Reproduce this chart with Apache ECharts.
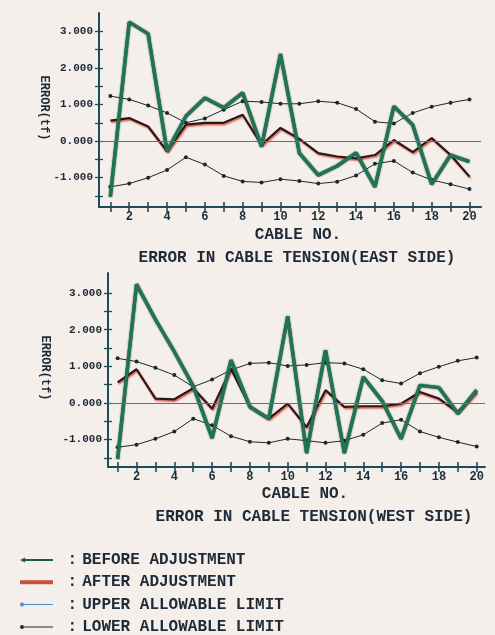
<!DOCTYPE html>
<html>
<head>
<meta charset="utf-8">
<script src="https://cdn.jsdelivr.net/npm/echarts@6/dist/echarts.min.js"></script>
<style>
html,body{margin:0;padding:0;background:#f4efeb;}
#c{width:495px;height:635px;}
</style>
</head>
<body>
<div id="c"></div>
<script>
var cables = [1,2,3,4,5,6,7,8,9,10,11,12,13,14,15,16,17,18,19,20];
var xTickValues = [1,2,3,4,5,6,7,8,9,10,11,12,13,14,15,16,17,18,19,20];
var xLabelValues = [2,4,6,8,10,12,14,16,18,20];
var yTickValues = [-1.5,-1,-0.5,0,0.5,1,1.5,2,2.5,3];
var yLabelValues = [-1,0,1,2,3];

var eastBefore = [-1.52, 3.25, 2.93, -0.28, 0.68, 1.18, 0.91, 1.32, -0.15, 2.38, -0.33, -0.93, -0.68, -0.32, -1.25, 0.95, 0.44, -1.18, -0.38, -0.56];
var eastAfter  = [0.56, 0.63, 0.40, -0.28, 0.45, 0.50, 0.50, 0.72, -0.10, 0.36, 0.06, -0.33, -0.42, -0.47, -0.38, 0.03, -0.30, 0.08, -0.38, -0.97];
var eastUpper  = [1.23, 1.14, 0.97, 0.77, 0.50, 0.62, 0.86, 1.09, 1.07, 1.02, 1.02, 1.09, 1.05, 0.88, 0.53, 0.48, 0.77, 0.94, 1.05, 1.14];
var eastLower  = [-1.25, -1.16, -1.00, -0.79, -0.44, -0.64, -0.95, -1.10, -1.13, -1.04, -1.09, -1.16, -1.11, -0.94, -0.62, -0.54, -0.86, -1.06, -1.18, -1.31];

var westBefore = [-1.53, 3.24, 2.28, 1.40, 0.46, -0.96, 1.17, -0.11, -0.43, 2.37, -1.37, 1.44, -1.37, 0.71, 0.05, -0.98, 0.48, 0.42, -0.29, 0.35];
var westAfter  = [0.56, 0.92, 0.12, 0.10, 0.40, -0.16, 0.93, -0.09, -0.43, -0.02, -0.66, 0.35, -0.11, -0.09, -0.09, -0.02, 0.30, 0.12, -0.25, 0.30];
var westUpper  = [1.22, 1.13, 0.96, 0.76, 0.44, 0.64, 0.90, 1.08, 1.10, 1.01, 1.04, 1.10, 1.08, 0.92, 0.62, 0.53, 0.81, 0.99, 1.15, 1.24];
var westLower  = [-1.21, -1.14, -0.98, -0.78, -0.43, -0.61, -0.91, -1.06, -1.09, -0.98, -1.03, -1.09, -1.03, -0.87, -0.55, -0.46, -0.78, -0.94, -1.07, -1.19];

var seriesNames = ['BEFORE ADJUSTMENT','AFTER ADJUSTMENT','UPPER ALLOWABLE LIMIT','LOWER ALLOWABLE LIMIT'];

function pairs(vals){ return cables.map(function(c,i){ return [c, vals[i]]; }); }

var MONO = '"Liberation Mono","DejaVu Sans Mono",monospace';
var INK = '#1e2a38';
var AXIS = '#1d4c58';

function xAxes(grid, min, max){
  return [{
    type:'value', gridIndex:grid, min:min, max:max, position:'bottom',
    axisLine:{show:true, onZero:false, lineStyle:{color:AXIS, width:2}},
    axisTick:{show:true, inside:false, length:5, customValues:xTickValues, lineStyle:{color:AXIS,width:1.6}},
    axisLabel:{show:true, customValues:xLabelValues, margin:4, color:INK, fontFamily:MONO, fontWeight:'bold', fontSize:12},
    splitLine:{show:false}
  },{
    type:'value', gridIndex:grid, min:min, max:max, position:'bottom', offset:0,
    axisLine:{show:false, onZero:false},
    axisTick:{show:true, inside:true, length:5, customValues:xTickValues, lineStyle:{color:AXIS,width:1.6}},
    axisLabel:{show:false}, splitLine:{show:false}
  }];
}
function yAxes(grid, min, max){
  return [{
    type:'value', gridIndex:grid, min:min, max:max, position:'left',
    axisLine:{show:true, onZero:false, lineStyle:{color:AXIS, width:2}},
    axisTick:{show:true, inside:false, length:4, customValues:yTickValues, lineStyle:{color:AXIS,width:1.3}},
    axisLabel:{show:true, customValues:yLabelValues, margin:6, color:INK, fontFamily:MONO, fontWeight:'bold', fontSize:11,
      formatter:function(v){ return (v<0?'-':'') + Math.abs(v).toFixed(3); }},
    splitLine:{show:false}
  },{
    type:'value', gridIndex:grid, min:min, max:max, position:'left', offset:0,
    axisLine:{show:false, onZero:false},
    axisTick:{show:true, inside:true, length:4, customValues:yTickValues, lineStyle:{color:AXIS,width:1.3}},
    axisLabel:{show:false}, splitLine:{show:false}
  }];
}

function chartSeries(axisX, axisY, before, after, upper, lower){
  return [{
    name:seriesNames[3], type:'line', xAxisIndex:axisX, yAxisIndex:axisY, data:pairs(lower),
    symbol:'circle', symbolSize:4, color:'#1a2830',
    lineStyle:{color:'#1a2830', width:1}, itemStyle:{color:'#1a2830'}, z:2,
    markLine:{silent:true, symbol:'none', label:{show:false},
      lineStyle:{color:'#3a7f92', width:1.2, type:'solid'}, data:[{yAxis:0}]}
  },{
    name:seriesNames[2], type:'line', xAxisIndex:axisX, yAxisIndex:axisY, data:pairs(upper),
    symbol:'circle', symbolSize:4, color:'#1a2830',
    lineStyle:{color:'#1a2830', width:1}, itemStyle:{color:'#1a2830'}, z:2
  },{
    name:seriesNames[1], type:'line', xAxisIndex:axisX, yAxisIndex:axisY, data:pairs(after),
    symbol:'none', color:'#2b1a18',
    lineStyle:{color:'#2a1816', width:2.2, shadowColor:'rgba(220,80,60,0.9)', shadowBlur:1.5, shadowOffsetX:1, shadowOffsetY:1.5}, z:3
  },{
    name:seriesNames[0], type:'line', xAxisIndex:axisX, yAxisIndex:axisY, data:pairs(before),
    symbol:'none', color:'#1f7453',
    lineStyle:{color:'#1f7453', width:3.4, shadowColor:'rgba(8,35,28,0.95)', shadowBlur:1.5}, z:4
  }];
}

var chart = echarts.init(document.getElementById('c'), null, {renderer:'canvas'});

var option = {
  backgroundColor:'#f4efeb',
  animation:false,
  grid:[
    {left:99, top:13, width:382, height:194},
    {left:108, top:273, width:377, height:194}
  ],
  xAxis: xAxes(0, 0.4, 20.61).concat(xAxes(1, 0.49, 20.44)),
  yAxis: yAxes(0, -1.8, 3.5).concat(yAxes(1, -1.75, 3.55)),
  legend:{
    orient:'vertical', left:20, top:552, height:120, itemGap:6.3,
    itemWidth:33, itemHeight:5, padding:0,
    textStyle:{color:INK, fontFamily:MONO, fontWeight:'bold', fontSize:16, lineHeight:16,
      rich:{
        c:{color:INK, fontFamily:MONO, fontWeight:'bold', fontSize:16, lineHeight:16},
        t:{color:INK, fontFamily:MONO, fontWeight:'bold', fontSize:16, lineHeight:16, padding:[0,0,0,5]}
      }},
    formatter:function(n){ return '{c| :}{t|' + n + '}'; },
    data:[
      {name:seriesNames[0], icon:'path://M0,3L5,0.5L5,2L33,2L33,4L5,4L5,5.5Z', itemStyle:{color:'#1e5c44'}},
      {name:seriesNames[1], icon:'path://M0,0L33,0L33,4L0,4Z', itemStyle:{color:'#c8503c'}},
      {name:seriesNames[2], icon:'path://M0,2A2,2 0 1,1 4,2A2,2 0 1,1 0,2ZM4,1.5L33,1.5L33,2.5L4,2.5Z', itemStyle:{color:'#4d8fc4'}},
      {name:seriesNames[3], icon:'path://M0,2A2,2 0 1,1 4,2A2,2 0 1,1 0,2ZM4,1.5L33,1.5L33,2.5L4,2.5Z', itemStyle:{color:'#1a2830'}}
    ]
  },
  graphic:[
    {type:'text', x:298, y:235, style:{text:'CABLE NO.', fill:INK, font:'bold 16px '+MONO, textAlign:'center', textVerticalAlign:'middle'}},
    {type:'text', x:297, y:258, style:{text:'ERROR IN CABLE TENSION(EAST SIDE)', fill:INK, font:'bold 16px '+MONO, textAlign:'center', textVerticalAlign:'middle'}},
    {type:'text', x:305, y:494, style:{text:'CABLE NO.', fill:INK, font:'bold 16px '+MONO, textAlign:'center', textVerticalAlign:'middle'}},
    {type:'text', x:314, y:517, style:{text:'ERROR IN CABLE TENSION(WEST SIDE)', fill:INK, font:'bold 16px '+MONO, textAlign:'center', textVerticalAlign:'middle'}},
    {type:'text', x:44, y:108, rotation:-Math.PI/2, style:{text:'ERROR(tf)', fill:INK, font:'bold 12px '+MONO, textAlign:'center', textVerticalAlign:'middle'}},
    {type:'text', x:45, y:368, rotation:-Math.PI/2, style:{text:'ERROR(tf)', fill:INK, font:'bold 12px '+MONO, textAlign:'center', textVerticalAlign:'middle'}}
  ],
  series: chartSeries(0, 0, eastBefore, eastAfter, eastUpper, eastLower)
    .concat(chartSeries(2, 2, westBefore, westAfter, westUpper, westLower))
};
chart.setOption(option);
</script>
</body>
</html>
